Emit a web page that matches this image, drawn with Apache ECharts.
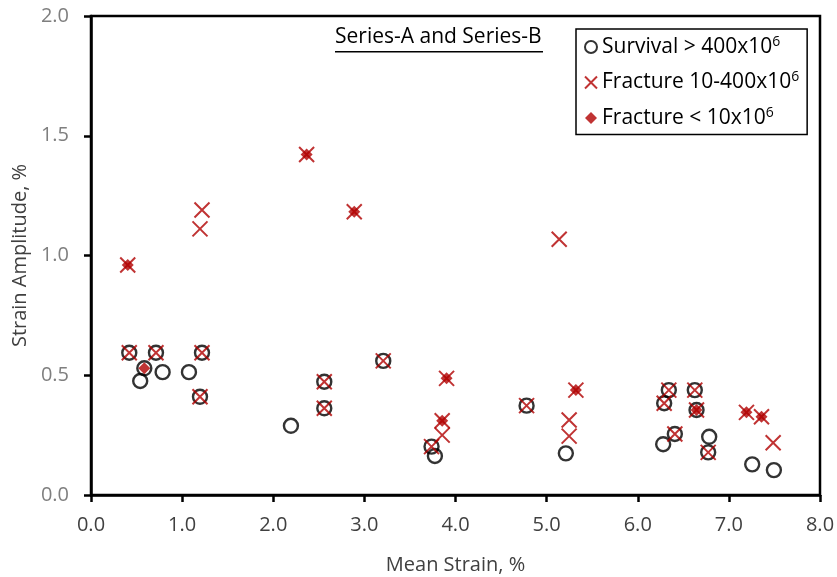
<!DOCTYPE html>
<html>
<head>
<meta charset="utf-8">
<script src="https://cdn.jsdelivr.net/npm/echarts@6/dist/echarts.min.js"></script>
<style>html,body{margin:0;padding:0;background:#fff}#c{width:837px;height:577px}</style>
</head>
<body>
<div id="c"></div>
<script>
// Data (Mean Strain %, Strain Amplitude %)
const survival = [[0.42,0.594],[0.54,0.476],[0.585,0.529],[0.713,0.594],[0.786,0.513],[1.075,0.513],[1.218,0.594],[1.196,0.41],[2.194,0.289],[2.56,0.473],[2.56,0.362],[3.207,0.56],[3.737,0.202],[3.774,0.163],[4.78,0.373],[5.211,0.174],[6.341,0.438],[6.626,0.438],[6.29,0.383],[6.645,0.355],[6.407,0.255],[6.279,0.212],[6.784,0.243],[6.773,0.178],[7.256,0.128],[7.494,0.104]];
const fracture10to400 = [[0.403,0.96],[0.42,0.594],[0.713,0.594],[1.218,0.594],[1.196,0.41],[1.218,1.19],[1.196,1.111],[2.366,1.422],[2.889,1.183],[2.56,0.473],[2.56,0.362],[3.207,0.56],[3.902,0.487],[3.854,0.31],[3.854,0.25],[3.737,0.202],[4.78,0.373],[5.138,1.068],[5.247,0.313],[5.247,0.246],[5.321,0.438],[6.341,0.438],[6.626,0.438],[6.29,0.383],[6.645,0.355],[6.407,0.255],[6.773,0.178],[7.193,0.345],[7.358,0.327],[7.486,0.218]];
const fractureBelow10 = [[0.403,0.96],[0.585,0.529],[2.366,1.422],[2.889,1.183],[3.902,0.487],[3.854,0.31],[5.321,0.438],[6.645,0.355],[7.193,0.345],[7.358,0.327]];
const seriesNames = ['Survival > 400x10{sup|6}', 'Fracture 10-400x10{sup|6}', 'Fracture < 10x10{sup|6}'];
const legendIds = ['s1','s2','s3'];
const titleText = 'Series-A and Series-B';
const xName = 'Mean Strain, %';
const yName = 'Strain Amplitude, %';

const FONT = '"Open Sans", sans-serif';
const RED = '#b00000';
const chart = echarts.init(document.getElementById('c'), null, {renderer:'canvas'});
const nameMap = {s1:seriesNames[0], s2:seriesNames[1], s3:seriesNames[2]};
chart.setOption({
  animation:false,
  backgroundColor:'#fff',
  grid:{left:91,right:17,top:16,bottom:82,show:true,borderColor:'#000',borderWidth:2.5,
    containLabel:false,outerBoundsMode:'none'},
  xAxis:{type:'value',min:0,max:8,interval:1,name:xName,nameLocation:'middle',nameGap:60,
    nameTextStyle:{fontFamily:FONT,fontSize:20,color:'#404040'},
    axisLine:{show:true,onZero:false,lineStyle:{color:'#000',width:2.5}},
    axisTick:{show:true,inside:false,length:7,lineStyle:{color:'#000',width:2.5}},
    axisLabel:{fontFamily:FONT,fontSize:20,color:'#404040',margin:20,formatter:v=>v.toFixed(1)},
    splitLine:{show:false}},
  yAxis:{type:'value',min:0,max:2,interval:0.5,name:yName,nameLocation:'middle',nameGap:58,
    nameTextStyle:{fontFamily:FONT,fontSize:20,color:'#404040'},
    axisLine:{show:true,onZero:false,lineStyle:{color:'#000',width:2.5}},
    axisTick:{show:true,inside:false,length:7,lineStyle:{color:'#000',width:2.5}},
    axisLabel:{fontFamily:FONT,fontSize:20,color:'#7f7f7f',margin:22,formatter:v=>v.toFixed(1)},
    splitLine:{show:false}},
  legend:{orient:'vertical',left:576,top:29,width:230,padding:[6,8,6,8],itemGap:13,
    backgroundColor:'#fff',borderColor:'#000',borderWidth:1.5,borderRadius:0,
    itemWidth:12,itemHeight:12,
    data:legendIds,
    formatter:n=>nameMap[n],
    textStyle:{fontFamily:FONT,fontSize:21,color:'#000',
      rich:{sup:{fontFamily:FONT,fontSize:14,color:'#000',verticalAlign:'top',padding:[0,0,10,0]}}}},
  graphic:[
    {type:'text',left:335,top:27,style:{text:titleText,font:'21px "Open Sans", sans-serif',fill:'#000'}},
    {type:'rect',left:335,top:51,shape:{width:208,height:1.5},style:{fill:'#000'}}
  ],
  series:[
    {name:'s1',type:'scatter',data:survival,symbol:'circle',symbolSize:14,
      itemStyle:{color:'rgba(255,255,255,0)',borderColor:'#000',borderWidth:2.4},z:2},
    {name:'s2',type:'scatter',data:fracture10to400,symbol:'path://M0,0L10,10M10,0L0,10',symbolSize:15,
      itemStyle:{color:'rgba(255,255,255,0)',borderColor:RED,borderWidth:2},z:3},
    {name:'s3',type:'scatter',data:fractureBelow10,symbol:'diamond',symbolSize:12,
      itemStyle:{color:RED,borderColor:RED,borderWidth:0},z:4}
  ]
});
</script>
</body>
</html>
